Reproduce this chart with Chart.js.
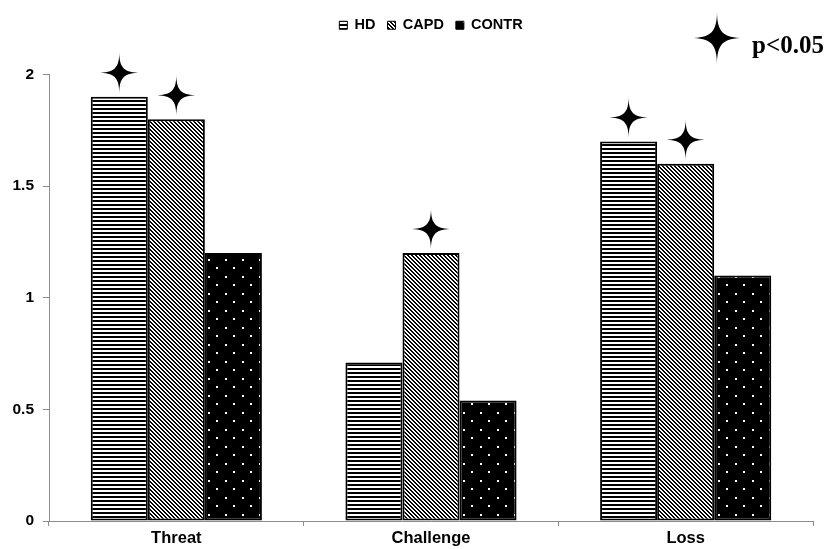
<!DOCTYPE html>
<html>
<head>
<meta charset="utf-8">
<script src="https://cdn.jsdelivr.net/npm/chart.js@4.4.1/dist/chart.umd.min.js"></script>
<style>
  html, body { margin: 0; padding: 0; background: #fff; }
  #wrap { width: 826px; height: 549px; position: relative; }
</style>
</head>
<body>
<div id="wrap"><canvas id="chart"></canvas></div>
<script>
// --- data ---
const categories = ['Threat', 'Challenge', 'Loss'];
const seriesNames = ['HD', 'CAPD', 'CONTR'];
const hdValues = [1.9, 0.71, 1.7];
const capdValues = [1.8, 1.2, 1.6];
const contrValues = [1.2, 0.54, 1.1];
// star above a bar = p<0.05
const hdSig = [true, false, true];
const capdSig = [true, true, true];
const contrSig = [false, false, false];
const yTickLabels = ['0', '0.5', '1', '1.5', '2'];
const sigLabel = 'p<0.05';

const AXIS_GREY = '#8c8c8c';
const SANS = '"Liberation Sans", Arial, sans-serif';

const canvas = document.getElementById('chart');
const mainCtx = canvas.getContext('2d');

// small repeating tiles for the hatch fills
function makePattern(size, draw) {
  const tile = document.createElement('canvas');
  tile.width = size;
  tile.height = size;
  draw(tile.getContext('2d'), size);
  return mainCtx.createPattern(tile, 'repeat');
}

const hdFill = makePattern(4, (g, s) => {
  g.fillStyle = '#fff'; g.fillRect(0, 0, s, s);
  g.fillStyle = '#000'; g.fillRect(0, 0, s, 2);
});

const capdFill = makePattern(4, (g, s) => {
  g.fillStyle = '#fff'; g.fillRect(0, 0, s, s);
  g.fillStyle = '#000';
  for (let y = 0; y < s; y++) {
    g.fillRect(y, y, 1, 1);
    g.fillRect((y + 1) % s, y, 1, 1);
  }
});

const contrFill = makePattern(17, (g, s) => {
  g.fillStyle = '#000'; g.fillRect(0, 0, s, s);
  g.fillStyle = '#fff';
  g.fillRect(4, 4, 2, 2);
  g.fillRect(12, 12, 2, 2);
});

// four pointed star
function drawStar(ctx, x, y, rx, ry) {
  const k = 0.22;
  ctx.beginPath();
  ctx.moveTo(x, y - ry);
  ctx.bezierCurveTo(x, y - ry * k, x + rx * k, y, x + rx, y);
  ctx.bezierCurveTo(x + rx * k, y, x, y + ry * k, x, y + ry);
  ctx.bezierCurveTo(x, y + ry * k, x - rx * k, y, x - rx, y);
  ctx.bezierCurveTo(x - rx * k, y, x, y - ry * k, x, y - ry);
  ctx.closePath();
  ctx.fillStyle = '#000';
  ctx.fill();
}

const sigFlags = [hdSig, capdSig, contrSig];

const starPlugin = {
  id: 'sigStars',
  afterDatasetsDraw(chart) {
    const ctx = chart.ctx;
    ctx.save();
    sigFlags.forEach((flags, d) => {
      const meta = chart.getDatasetMeta(d);
      flags.forEach((on, i) => {
        if (!on) return;
        const bar = meta.data[i];
        drawStar(ctx, bar.x, bar.y - 24, 22, 21);
      });
    });

    // key for the star, top right
    const area = chart.chartArea;
    const sx = area.right - 96;
    drawStar(ctx, sx, 38, 27, 27);
    ctx.font = 'bold 25px "Liberation Serif", "Times New Roman", serif';
    ctx.fillStyle = '#000';
    ctx.textAlign = 'left';
    ctx.textBaseline = 'alphabetic';
    ctx.fillText(sigLabel, sx + 35, 53);
    ctx.restore();
  }
};

const barStyle = {
  borderColor: '#000',
  borderWidth: 2,
  borderSkipped: false,
  categoryPercentage: 0.672,
  barPercentage: 1.0
};

new Chart(canvas, {
  type: 'bar',
  data: {
    labels: categories,
    datasets: [
      Object.assign({ label: seriesNames[0], data: hdValues, backgroundColor: hdFill }, barStyle),
      Object.assign({ label: seriesNames[1], data: capdValues, backgroundColor: capdFill }, barStyle),
      Object.assign({ label: seriesNames[2], data: contrValues, backgroundColor: contrFill }, barStyle)
    ]
  },
  options: {
    responsive: true,
    maintainAspectRatio: false,
    animation: false,
    devicePixelRatio: 1,
    layout: { padding: { top: 6, right: 13, left: 0, bottom: 0 } },
    plugins: {
      tooltip: { enabled: false },
      legend: {
        position: 'top',
        fullSize: false,
        labels: {
          color: '#000',
          font: { family: SANS, size: 14.5, weight: 'bold' },
          boxWidth: 8,
          boxHeight: 8,
          padding: 12,
          generateLabels(chart) {
            const items = Chart.defaults.plugins.legend.labels.generateLabels(chart);
            items.forEach(it => { it.lineWidth = 1; });
            return items;
          }
        }
      },
      // empty spacer between legend and plot
      subtitle: {
        display: true,
        text: '',
        weight: 500,
        font: { size: 10, lineHeight: 1 },
        padding: { top: 0, bottom: 22 }
      }
    },
    scales: {
      x: {
        afterFit(scale) { scale.height = 28; },
        border: { color: AXIS_GREY, width: 1 },
        grid: {
          offset: true,
          drawOnChartArea: false,
          drawTicks: true,
          tickLength: 5,
          color: AXIS_GREY
        },
        ticks: {
          color: '#000',
          padding: 3,
          font: { family: SANS, size: 16.5, weight: 'bold' }
        }
      },
      y: {
        min: 0,
        max: 2,
        afterFit(scale) { scale.width = 49; },
        border: { color: AXIS_GREY, width: 1 },
        grid: {
          drawOnChartArea: false,
          drawTicks: true,
          tickLength: 6,
          color: AXIS_GREY
        },
        ticks: {
          stepSize: 0.5,
          color: '#000',
          padding: 9,
          font: { family: SANS, size: 15.5, weight: 'bold' },
          callback: (val, idx) => yTickLabels[idx]
        }
      }
    }
  },
  plugins: [starPlugin]
});
</script>
</body>
</html>
